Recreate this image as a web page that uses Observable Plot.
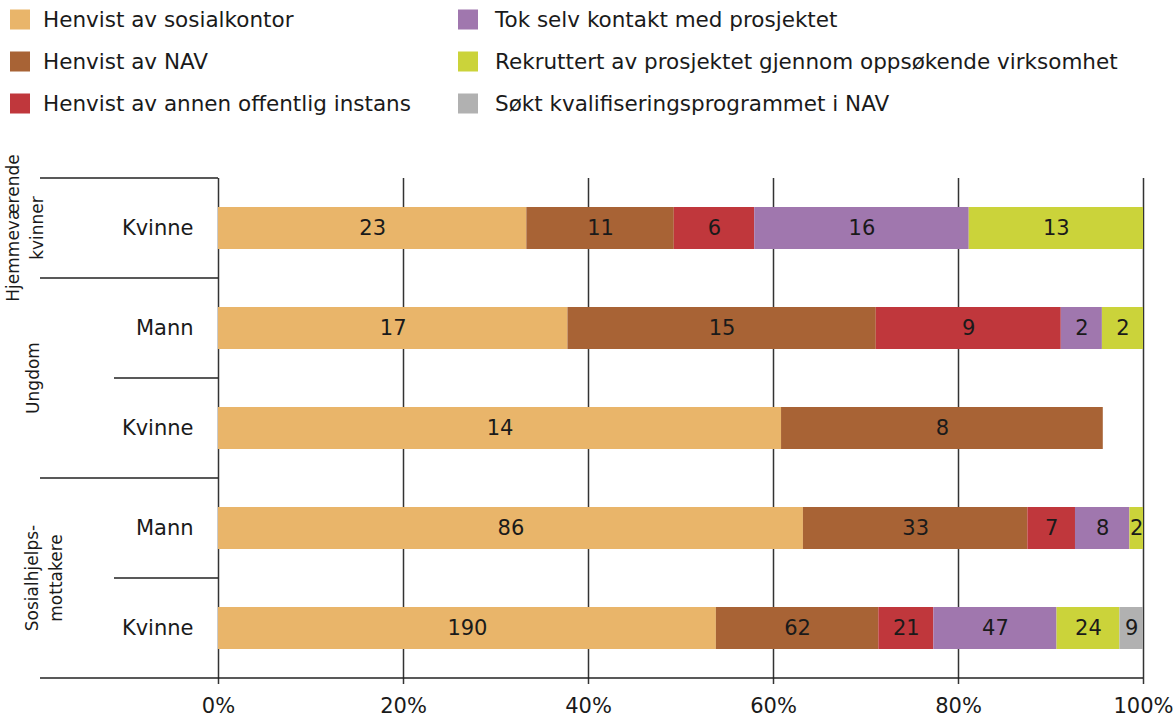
<!DOCTYPE html>
<html><head><meta charset="utf-8">
<script src="https://cdn.jsdelivr.net/npm/d3@7"></script>
<script src="https://cdn.jsdelivr.net/npm/@observablehq/plot@0.6"></script>
<style>
body{margin:0;background:#fff;font-family:"DejaVu Sans",Verdana,sans-serif;}
#legend{position:relative;width:1176px;height:125px;}
.item{position:absolute;display:flex;align-items:center;font-size:21.5px;color:#1a1a1a;white-space:nowrap;transform:translateY(-50%);}
.sw{width:20px;height:20px;flex:none;}
#chart svg{display:block;}
</style></head><body>
<div id="legend"></div><div id="chart"></div>
<script>
const categories = ["Henvist av sosialkontor","Henvist av NAV","Henvist av annen offentlig instans","Tok selv kontakt med prosjektet","Rekruttert av prosjektet gjennom oppsøkende virksomhet","Søkt kvalifiseringsprogrammet i NAV"];
const colors = ["#E9B56A","#A86335","#C0373C","#A077AE","#CBD33A","#B1B1B1"];
const groups = ["Hjemmeværende\nkvinner","Ungdom","Ungdom","Sosialhjelps-\nmottakere","Sosialhjelps-\nmottakere"];
const genders = ["Kvinne","Mann","Kvinne","Mann","Kvinne"];
const sosialkontor = [23,17,14,86,190];
const nav = [11,15,8,33,62];
const annen = [6,9,0,7,21];
const selv = [16,2,0,8,47];
const rekruttert = [13,2,0,2,24];
const kvalifisering = [0,0,0,0,9];
const totals = [69,45,23,136,353];
const xTicks = [0,20,40,60,80,100];

// legend
const legendPos = [[10,19,13],[10,61,13],[10,103,13],[458,19,17],[458,61,17],[458,103,17]];
const legend = document.getElementById("legend");
categories.forEach((c,i)=>{
  const d = document.createElement("div");
  d.className="item";
  d.style.left = legendPos[i][0]+"px";
  d.style.top = legendPos[i][1]+"px";
  d.innerHTML = `<span class="sw" style="background:${colors[i]};margin-right:${legendPos[i][2]}px"></span><span>${c}</span>`;
  legend.appendChild(d);
});

const series = [sosialkontor,nav,annen,selv,rekruttert,kvalifisering];
const rowKeys = genders.map((g,i)=>i+"|"+groups[i]+"|"+g);
const genderOf = Object.fromEntries(rowKeys.map((k,i)=>[k,genders[i]]));
const table = [];
rowKeys.forEach((k,i)=>{
  categories.forEach((c,j)=>{
    const v = series[j][i];
    if (v>0) table.push({row:k, category:c, value:v, pct:v/totals[i]*100});
  });
});

const font = "DejaVu Sans, Verdana, sans-serif";
const plot = Plot.plot({
  width:1176, height:595, marginTop:53, marginBottom:42, marginLeft:218, marginRight:33,
  style:{fontFamily:font, fontSize:"21px", color:"#1a1a1a", background:"white", overflow:"visible"},
  x:{domain:[0,100]},
  y:{domain:rowKeys, paddingInner:0.58, paddingOuter:0.29},
  color:{domain:categories, range:colors},
  marks:[
    Plot.ruleX(xTicks, {stroke:"#333", strokeWidth:1.5}),
    Plot.barX(table, Plot.stackX({x:"pct", y:"row", fill:"category", order:categories})),
    Plot.text(table, Plot.stackX({x:"pct", y:"row", z:"category", text:"value", order:categories, fill:"#1a1a1a", fontSize:21})),
    Plot.axisX(xTicks, {tickFormat:d=>d+"%", tickSize:6, tickPadding:14, stroke:"#333", strokeWidth:1.5, fontSize:21, fill:"#1a1a1a", label:null}),
    Plot.axisY({tickSize:0, tickPadding:25, tickFormat:k=>genderOf[k], fontSize:21, fill:"#1a1a1a", label:null})
  ]
});
document.getElementById("chart").appendChild(plot);

// category axis decoration (separators and group labels) using Plot's scales
const xs = plot.scale("x"), ys = plot.scale("y");
const bw = ys.bandwidth;
const step = ys.apply(rowKeys[1]) - ys.apply(rowKeys[0]);
const boundary = i => i < rowKeys.length ? ys.apply(rowKeys[i]) - (step-bw)/2 : ys.apply(rowKeys[rowKeys.length-1]) + bw + (step-bw)/2;
const g = d3.select(plot).append("g").attr("stroke","#222").attr("stroke-width",1.5);
for (let i=0;i<=rowKeys.length;i++){
  const isGroupEdge = i===0 || i===rowKeys.length || groups[i]!==groups[i-1];
  const y = boundary(i);
  g.append("line").attr("x1", isGroupEdge?40:114).attr("x2", i===rowKeys.length?xs.apply(100):xs.apply(0)).attr("y1",y).attr("y2",y);
}
const labelX = {"Hjemmeværende\nkvinner":25,"Ungdom":33,"Sosialhjelps-\nmottakere":44};
const uniq = [...new Set(groups)];
uniq.forEach(name=>{
  const idx = groups.map((gname,i)=>gname===name?i:-1).filter(i=>i>=0);
  const yc = (ys.apply(rowKeys[idx[0]]) + ys.apply(rowKeys[idx[idx.length-1]]) + bw)/2;
  const lines = name.split("\n");
  const t = d3.select(plot).append("text")
    .attr("transform",`translate(${labelX[name]},${yc}) rotate(-90)`)
    .attr("text-anchor","middle").attr("font-size",17).attr("fill","#1a1a1a")
    .attr("font-family",font);
  lines.forEach((l,k)=>{
    t.append("tspan").attr("x",0).attr("y",(k-(lines.length-1)/2)*24).attr("dy","0.35em").text(l);
  });
});
</script>
</body></html>
